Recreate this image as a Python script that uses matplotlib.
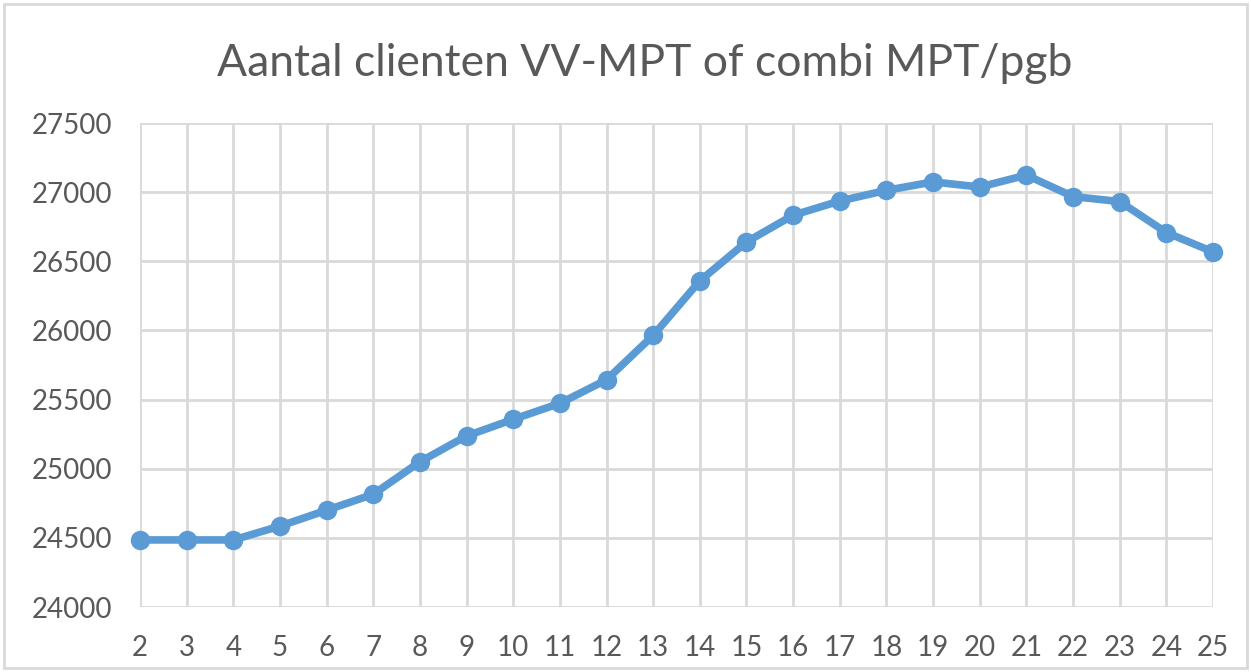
import numpy as np
import matplotlib.pyplot as plt
from matplotlib.patches import Rectangle

# --- DATA ---
weeks = [str(w) for w in range(2, 26)]
clients = [24485, 24485, 24485, 24585, 24700, 24815, 25050, 25237,
           25357, 25473, 25643, 25964, 26358, 26640, 26833, 26936,
           27013, 27074, 27037, 27123, 26968, 26932, 26708, 26568]
y_ticks = [24000, 24500, 25000, 25500, 26000, 26500, 27000, 27500]

blue = '#5B9BD5'
grid_col = '#D9D9D9'
text_col = '#595959'

plt.rcParams['font.family'] = ['Lato', 'DejaVu Sans']

fig = plt.figure(figsize=(12.51, 6.72), dpi=100)
ax = fig.add_axes([140 / 1251, 1 - 607 / 672, (1213 - 140) / 1251, (607 - 123) / 672])

x = np.arange(len(weeks))
ax.plot(x, clients, color=blue, linewidth=5.5, marker='o', markersize=13,
        solid_capstyle='round', zorder=3, clip_on=False)

ax.set_xlim(0, len(weeks) - 1)
ax.set_ylim(y_ticks[0], y_ticks[-1])
ax.set_xticks(x)
ax.set_xticklabels(weeks)
ax.set_yticks(y_ticks)

ax.grid(True, color=grid_col, linewidth=2)
ax.set_axisbelow(True)
for s in ax.spines.values():
    s.set_visible(False)
ax.tick_params(length=0, labelsize=20, colors=text_col)
ax.tick_params(axis='x', pad=20)
ax.tick_params(axis='y', pad=20)

fig.text(0.515, 0.905, 'Aantal clienten VV-MPT of combi MPT/pgb',
         ha='center', va='center', fontsize=32, color=text_col)

# chart border
fig.patches.append(Rectangle((4 / 1251, 4 / 672), 1 - 8 / 1251, 1 - 8 / 672,
                             transform=fig.transFigure, fill=False,
                             edgecolor='#D9D9D9', linewidth=2))

fig.savefig('out.png', dpi=100)
